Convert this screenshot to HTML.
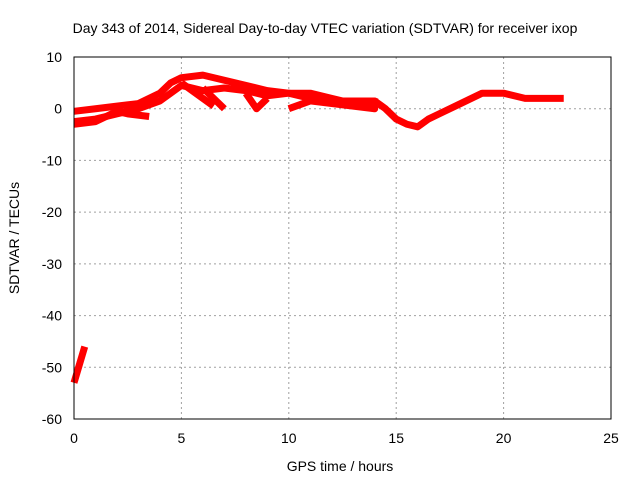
<!DOCTYPE html>
<html><head><meta charset="utf-8"><style>
body{margin:0;background:#fff}
svg{display:block;font-family:"Liberation Sans",Arial,sans-serif}
</style></head><body>
<svg id="c" width="640" height="480">
<text x="325" y="33" text-anchor="middle" font-size="14">Day 343 of 2014, Sidereal Day-to-day VTEC variation (SDTVAR) for receiver ixop</text>
<text x="340" y="471" text-anchor="middle" font-size="14">GPS time / hours</text>
<text transform="translate(19,238) rotate(-90)" text-anchor="middle" font-size="14">SDTVAR / TECUs</text>
<g id="grid"></g><g id="series"></g>
<rect x="74" y="57" width="537" height="362" fill="none" stroke="#000"/>
</svg>
<script>
const xTicks=[0,5,10,15,20,25];
const yTicks=[10,0,-10,-20,-30,-40,-50,-60];
const s1x=[0,1,2,3,4,4.5,5,6,7,8,9,10,11,12,13,14,14.5,15,15.5,16,16.5,17,18,19,20,21,22,22.8];
const s1y=[-0.5,0,0.5,1,3,5,6,6.5,5.5,4.5,3.5,3,2,1.5,1.5,1.5,0,-2,-3,-3.5,-2,-1,1,3,3,2,2,2];
const s2x=[0,1,2,3,4,4.5,5,6,7,8,9,10,11,12,13,14];
const s2y=[-2.5,-2,-1,0,1.5,3,4.5,3.5,4,3.5,2.5,3,3,2,1,0];
const s3x=[0,1,2,2.5,3.5];
const s3y=[-3,-2.5,-0.5,-1,-1.5];
const s4x=[5,6,6.5];
const s4y=[5,2,0.5];
const s5x=[6,7];
const s5y=[4,0];
const s6x=[8,8.5,9];
const s6y=[3,0,2];
const s7x=[10,11,12,13,14,14];
const s7y=[0,1.5,1,0.5,0,2];
const s8x=[0,0.5];
const s8y=[-53,-46];
const X=h=>74+h*537/25, Y=v=>57+(10-v)*362/70;
const NS="http://www.w3.org/2000/svg";
const svg=document.getElementById('c'),g=document.getElementById('grid'),sg=document.getElementById('series');
function mk(t,a,p){const e=document.createElementNS(NS,t);for(const k in a)e.setAttribute(k,a[k]);p.appendChild(e);return e;}
xTicks.forEach(t=>{
 const l=mk('line',{x1:X(t),x2:X(t),y1:57,y2:419,stroke:'#a0a0a0','stroke-dasharray':'2,3'},g);
 
 
 const tx=mk('text',{x:X(t),y:443,'text-anchor':'middle','font-size':14},svg);tx.textContent=t;
 
 
});
yTicks.forEach(t=>{
 const l=mk('line',{x1:74,x2:611,y1:Y(t),y2:Y(t),stroke:'#a0a0a0','stroke-dasharray':'2,3'},g);
 
 
 const tx=mk('text',{x:62,y:Y(t)+5,'text-anchor':'end','font-size':14},svg);tx.textContent=t;
 
 
});
[[s1x,s1y],[s2x,s2y],[s3x,s3y],[s4x,s4y],[s5x,s5y],[s6x,s6y],[s7x,s7y],[s8x,s8y]].forEach(([xs,ys])=>{
 const pl=mk('polyline',{points:xs.map((x,i)=>X(x)+','+Y(ys[i])).join(' '),fill:'none',stroke:'#ff0000','stroke-width':7,'stroke-linejoin':'round'},sg);
 
 
});
</script>
</body></html>
